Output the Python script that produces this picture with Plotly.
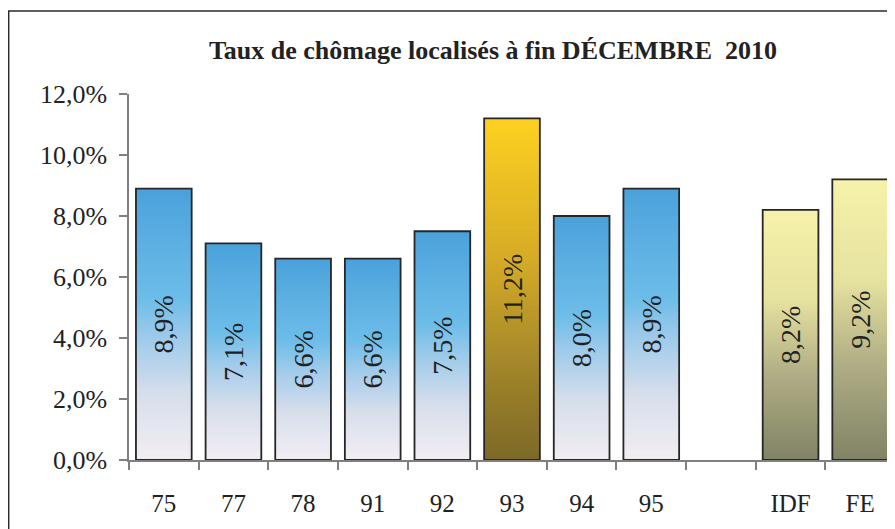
import plotly.graph_objects as go

# Donnees
categories = ["75", "77", "78", "91", "92", "93", "94", "95", " ", "IDF", "FE"]
taux = [8.9, 7.1, 6.6, 6.6, 7.5, 11.2, 8.0, 8.9, None, 8.2, 9.2]
groupes = ["dep", "dep", "dep", "dep", "dep", "93", "dep", "dep", None, "ref", "ref"]
yticks = [0, 2, 4, 6, 8, 10, 12]

titre = "Taux de chômage localisés à fin DÉCEMBRE\u00a0 2010"

# Degrades (bas -> haut)
degrades = {
    "dep": [(0.0, (243, 238, 243)), (0.25, (214, 222, 235)), (0.45, (160, 203, 235)),
            (0.6, (109, 189, 233)), (1.0, (75, 162, 219))],
    "93": [(0.0, (124, 104, 40)), (0.3, (165, 136, 42)), (0.6, (214, 172, 38)),
           (1.0, (253, 208, 32))],
    "ref": [(0.0, (128, 130, 100)), (0.35, (176, 174, 133)), (0.65, (230, 226, 160)),
            (1.0, (246, 242, 170))],
}


def couleur(groupe, t):
    stops = degrades[groupe]
    for (t0, c0), (t1, c1) in zip(stops[:-1], stops[1:]):
        if t0 <= t <= t1:
            f = (t - t0) / (t1 - t0)
            c = [round(a + (b - a) * f) for a, b in zip(c0, c1)]
            return "rgb(%d,%d,%d)" % tuple(c)
    return "rgb(%d,%d,%d)" % stops[-1][1]


N = 80
fig = go.Figure()

# Barres en tranches pour simuler le degrade
for k in range(N):
    frac = (N - k) / N
    ys = [v * frac if v is not None else None for v in taux]
    cols = [couleur(g, frac) if g is not None else "white" for g in groupes]
    fig.add_trace(go.Bar(x=categories, y=ys, marker=dict(color=cols, line=dict(width=0)),
                         hoverinfo="skip", showlegend=False))

# Contours et etiquettes
etiquettes = [("%.1f" % v).replace(".", ",") + "%" if v is not None else "" for v in taux]
fig.add_trace(go.Bar(x=categories, y=taux,
                     marker=dict(color="rgba(0,0,0,0)", line=dict(color="#262626", width=1.8)),
                     text=etiquettes, textposition="inside", insidetextanchor="middle",
                     textangle=-90, constraintext="none",
                     textfont=dict(family="Liberation Serif", size=28, color="#222222"),
                     showlegend=False))

# Cadre (la page a une marge de 8 px)
fig.add_shape(type="rect", xref="paper", yref="paper",
              x0=(0.7 - 121) / 766, x1=1.5, y0=-0.5, y1=1 + (86 - 3) / 366,
              line=dict(color="#2b2b2b", width=1.5), fillcolor="rgba(0,0,0,0)")

fig.update_layout(
    barmode="overlay",
    bargap=0.2,
    width=887, height=521,
    margin=dict(l=121, r=0, t=86, b=69),
    plot_bgcolor="white", paper_bgcolor="white",
    font=dict(family="Liberation Serif", color="#222222"),
    title=dict(text="<b>" + titre + "</b>", x=(485 - 121) / 766, xref="paper", xanchor="center",
               y=1 - 42 / 521, yanchor="middle",
               font=dict(family="Liberation Serif", size=26, color="#222222")),
    xaxis=dict(type="category", tickson="boundaries", ticks="outside", ticklen=8,
               tickcolor="#808080", tickwidth=1.5, showline=True, linecolor="#808080",
               linewidth=1.5, showgrid=False, ticklabelstandoff=20,
               tickfont=dict(family="Liberation Serif", size=25, color="#222222")),
    yaxis=dict(range=[0, 12], tickvals=yticks,
               ticktext=[("%.1f" % v).replace(".", ",") + "%" for v in yticks],
               ticks="outside", ticklen=8, tickcolor="#808080", tickwidth=1.5,
               showline=True, linecolor="#808080", linewidth=1.5, showgrid=False,
               zeroline=False, ticklabelstandoff=7,
               tickfont=dict(family="Liberation Serif", size=26, color="#222222")),
)

fig.write_html("out.html")
